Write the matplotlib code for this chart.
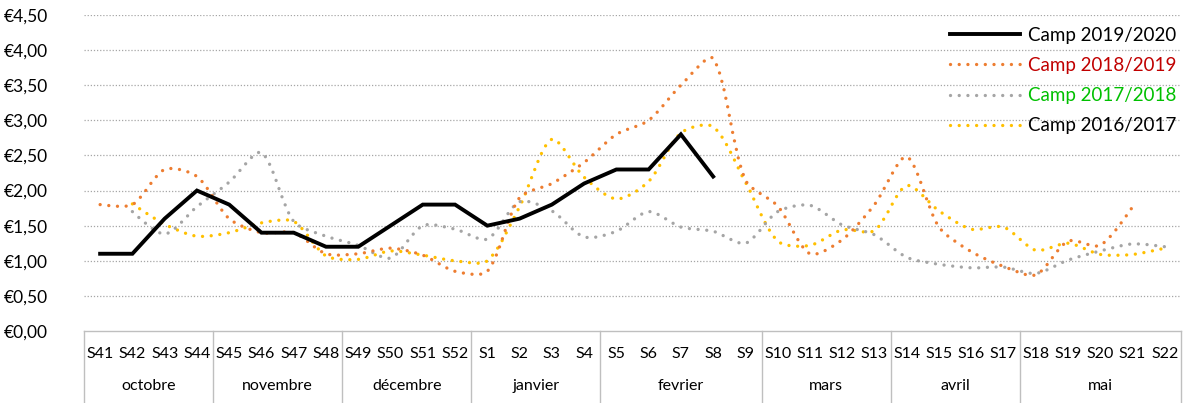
"""Prix hebdomadaires par campagne (S41 -> S22)."""

import numpy as np
import matplotlib
matplotlib.use("Agg")
import matplotlib.pyplot as plt
from matplotlib.path import Path
from matplotlib.patches import PathPatch
from matplotlib.lines import Line2D

plt.rcParams['font.family'] = ['Lato', 'DejaVu Sans']

# Semaines et mois
weeks = ['S41', 'S42', 'S43', 'S44', 'S45', 'S46', 'S47', 'S48',
         'S49', 'S50', 'S51', 'S52', 'S1', 'S2', 'S3', 'S4',
         'S5', 'S6', 'S7', 'S8', 'S9', 'S10', 'S11', 'S12', 'S13',
         'S14', 'S15', 'S16', 'S17', 'S18', 'S19', 'S20', 'S21', 'S22']
months = ['octobre', 'novembre', 'décembre', 'janvier',
          'fevrier', 'mars', 'avril', 'mai']
month_sizes = [4, 4, 4, 4, 5, 4, 4, 5]

# Prix (None = pas de donnée)
camp_2019 = [1.10, 1.10, 1.60, 2.00, 1.80, 1.40, 1.40, 1.20,
             1.20, 1.50, 1.80, 1.80, 1.50, 1.60, 1.80, 2.10,
             2.30, 2.30, 2.80, 2.20]
camp_2018 = [1.80, 1.80, 2.30, 2.20, 1.60, 1.40, 1.40, 1.10,
             1.10, 1.18, 1.08, 0.85, 0.85, 1.90, 2.10, 2.40,
             2.80, 3.00, 3.50, 3.88, 2.15, 1.78, 1.10, 1.30, 1.80,
             2.48, 1.48, 1.13, 0.92, 0.80, 1.28, 1.22, 1.77]
camp_2017 = [None, 1.70, 1.38, 1.77, 2.12, 2.54, 1.56, 1.35,
             1.22, 1.04, 1.50, 1.45, 1.31, 1.84, 1.71, 1.34,
             1.42, 1.70, 1.48, 1.42, 1.25, 1.70, 1.79, 1.51, 1.37,
             1.05, 0.95, 0.90, 0.91, 0.82, 1.01, 1.14, 1.24, 1.20]
camp_2016 = [None, 1.81, 1.52, 1.35, 1.40, 1.54, 1.56, 1.07,
             1.02, 1.14, 1.08, 1.00, 1.00, 1.77, 2.73, 2.19,
             1.88, 2.13, 2.82, 2.91, 2.12, 1.28, 1.22, 1.44, 1.43,
             2.07, 1.71, 1.45, 1.48, 1.15, 1.25, 1.09, 1.09, 1.18]

labels = ['Camp 2019/2020', 'Camp 2018/2019', 'Camp 2017/2018', 'Camp 2016/2017']
label_colors = ['black', '#C00000', '#00C000', 'black']

ORANGE = '#ED7D31'
GREY = '#A5A5A5'
YELLOW = '#FFC000'
BOX = '#BFBFBF'
DOTS = (0, (0.01, 2.6))

# échelle en pixels (pour un lissage proche d'Excel)
PX_X = 1097 / 34
PX_Y = 316 / 4.5


def smooth_path(values, f=0.28):
    """Courbe lissée (Bézier cubique, tangentes pondérées par les longueurs)."""
    pts = np.array([(i * PX_X, v * PX_Y) for i, v in enumerate(values) if v is not None])
    n = len(pts)
    c_in = pts.copy()
    c_out = pts.copy()
    for i in range(1, n - 1):
        t = pts[i + 1] - pts[i - 1]
        d0 = np.hypot(*(pts[i] - pts[i - 1]))
        d1 = np.hypot(*(pts[i + 1] - pts[i]))
        c_in[i] = pts[i] - t * f * d0 / (d0 + d1)
        c_out[i] = pts[i] + t * f * d1 / (d0 + d1)
    verts = [pts[0]]
    codes = [Path.MOVETO]
    for i in range(n - 1):
        verts += [c_out[i], c_in[i + 1], pts[i + 1]]
        codes += [Path.CURVE4] * 3
    verts = np.array(verts) / [PX_X, PX_Y]
    return Path(verts, codes)


fig = plt.figure(figsize=(11.87, 4.03), dpi=100)
ax = fig.add_axes([84 / 1187, 72 / 403, 1097 / 1187, 316 / 403])

x = np.arange(len(weeks))
ax.set_xlim(-0.5, len(weeks) - 0.5)
ax.set_ylim(0, 4.5)

# Grille
yticks = np.arange(0, 4.51, 0.5)
for yv in yticks[1:]:
    ax.axhline(yv, color='#A6A6A6', lw=0.9, ls=(0, (1, 1.5)), zorder=0)
ax.set_yticks(yticks)
ax.set_yticklabels(['€' + f'{v:.2f}'.replace('.', ',') for v in yticks], fontsize=12.5)
ax.tick_params(axis='y', length=0, pad=26)
ax.set_xticks([])
for s in ['top', 'right', 'left']:
    ax.spines[s].set_visible(False)
ax.spines['bottom'].set_color(BOX)
ax.spines['bottom'].set_linewidth(1)

# Séries lissées
for vals, col in [(camp_2016, YELLOW), (camp_2017, GREY), (camp_2018, ORANGE)]:
    patch = PathPatch(smooth_path(vals), facecolor='none', edgecolor=col,
                      lw=2.4, ls=DOTS, capstyle='round', zorder=2)
    ax.add_patch(patch)

ax.plot(x[:len(camp_2019)], camp_2019, color='black', lw=2.8, zorder=3,
        solid_joinstyle='miter')

# Axe des catégories à deux niveaux
trans = ax.get_xaxis_transform()
y_week = -23 / 316
y_month = -55 / 316
y_bottom = -72 / 316
for i, w in enumerate(weeks):
    ax.text(i, y_week, w, transform=trans, ha='center', va='center', fontsize=11.5)
edges = np.concatenate([[0], np.cumsum(month_sizes)]) - 0.5
for k, m in enumerate(months):
    ax.text((edges[k] + edges[k + 1]) / 2, y_month, m, transform=trans,
            ha='center', va='center', fontsize=11.5)
for e in edges:
    ax.add_line(Line2D([e, e], [0, y_bottom], transform=trans, color=BOX,
                       lw=1, clip_on=False))

# Légende
handles = [
    Line2D([], [], color='black', lw=2.8),
    Line2D([], [], color=ORANGE, lw=2.4, ls=DOTS, dash_capstyle='round'),
    Line2D([], [], color=GREY, lw=2.4, ls=DOTS, dash_capstyle='round'),
    Line2D([], [], color=YELLOW, lw=2.4, ls=DOTS, dash_capstyle='round'),
]
leg = ax.legend(handles, labels, loc='upper right', bbox_to_anchor=(1.006, 0.998),
                frameon=False, fontsize=13.5, handlelength=3.7, handletextpad=0.45,
                labelspacing=0.7, borderaxespad=0.2)
for txt, col in zip(leg.get_texts(), label_colors):
    txt.set_color(col)

plt.savefig('out.png', dpi=100)
